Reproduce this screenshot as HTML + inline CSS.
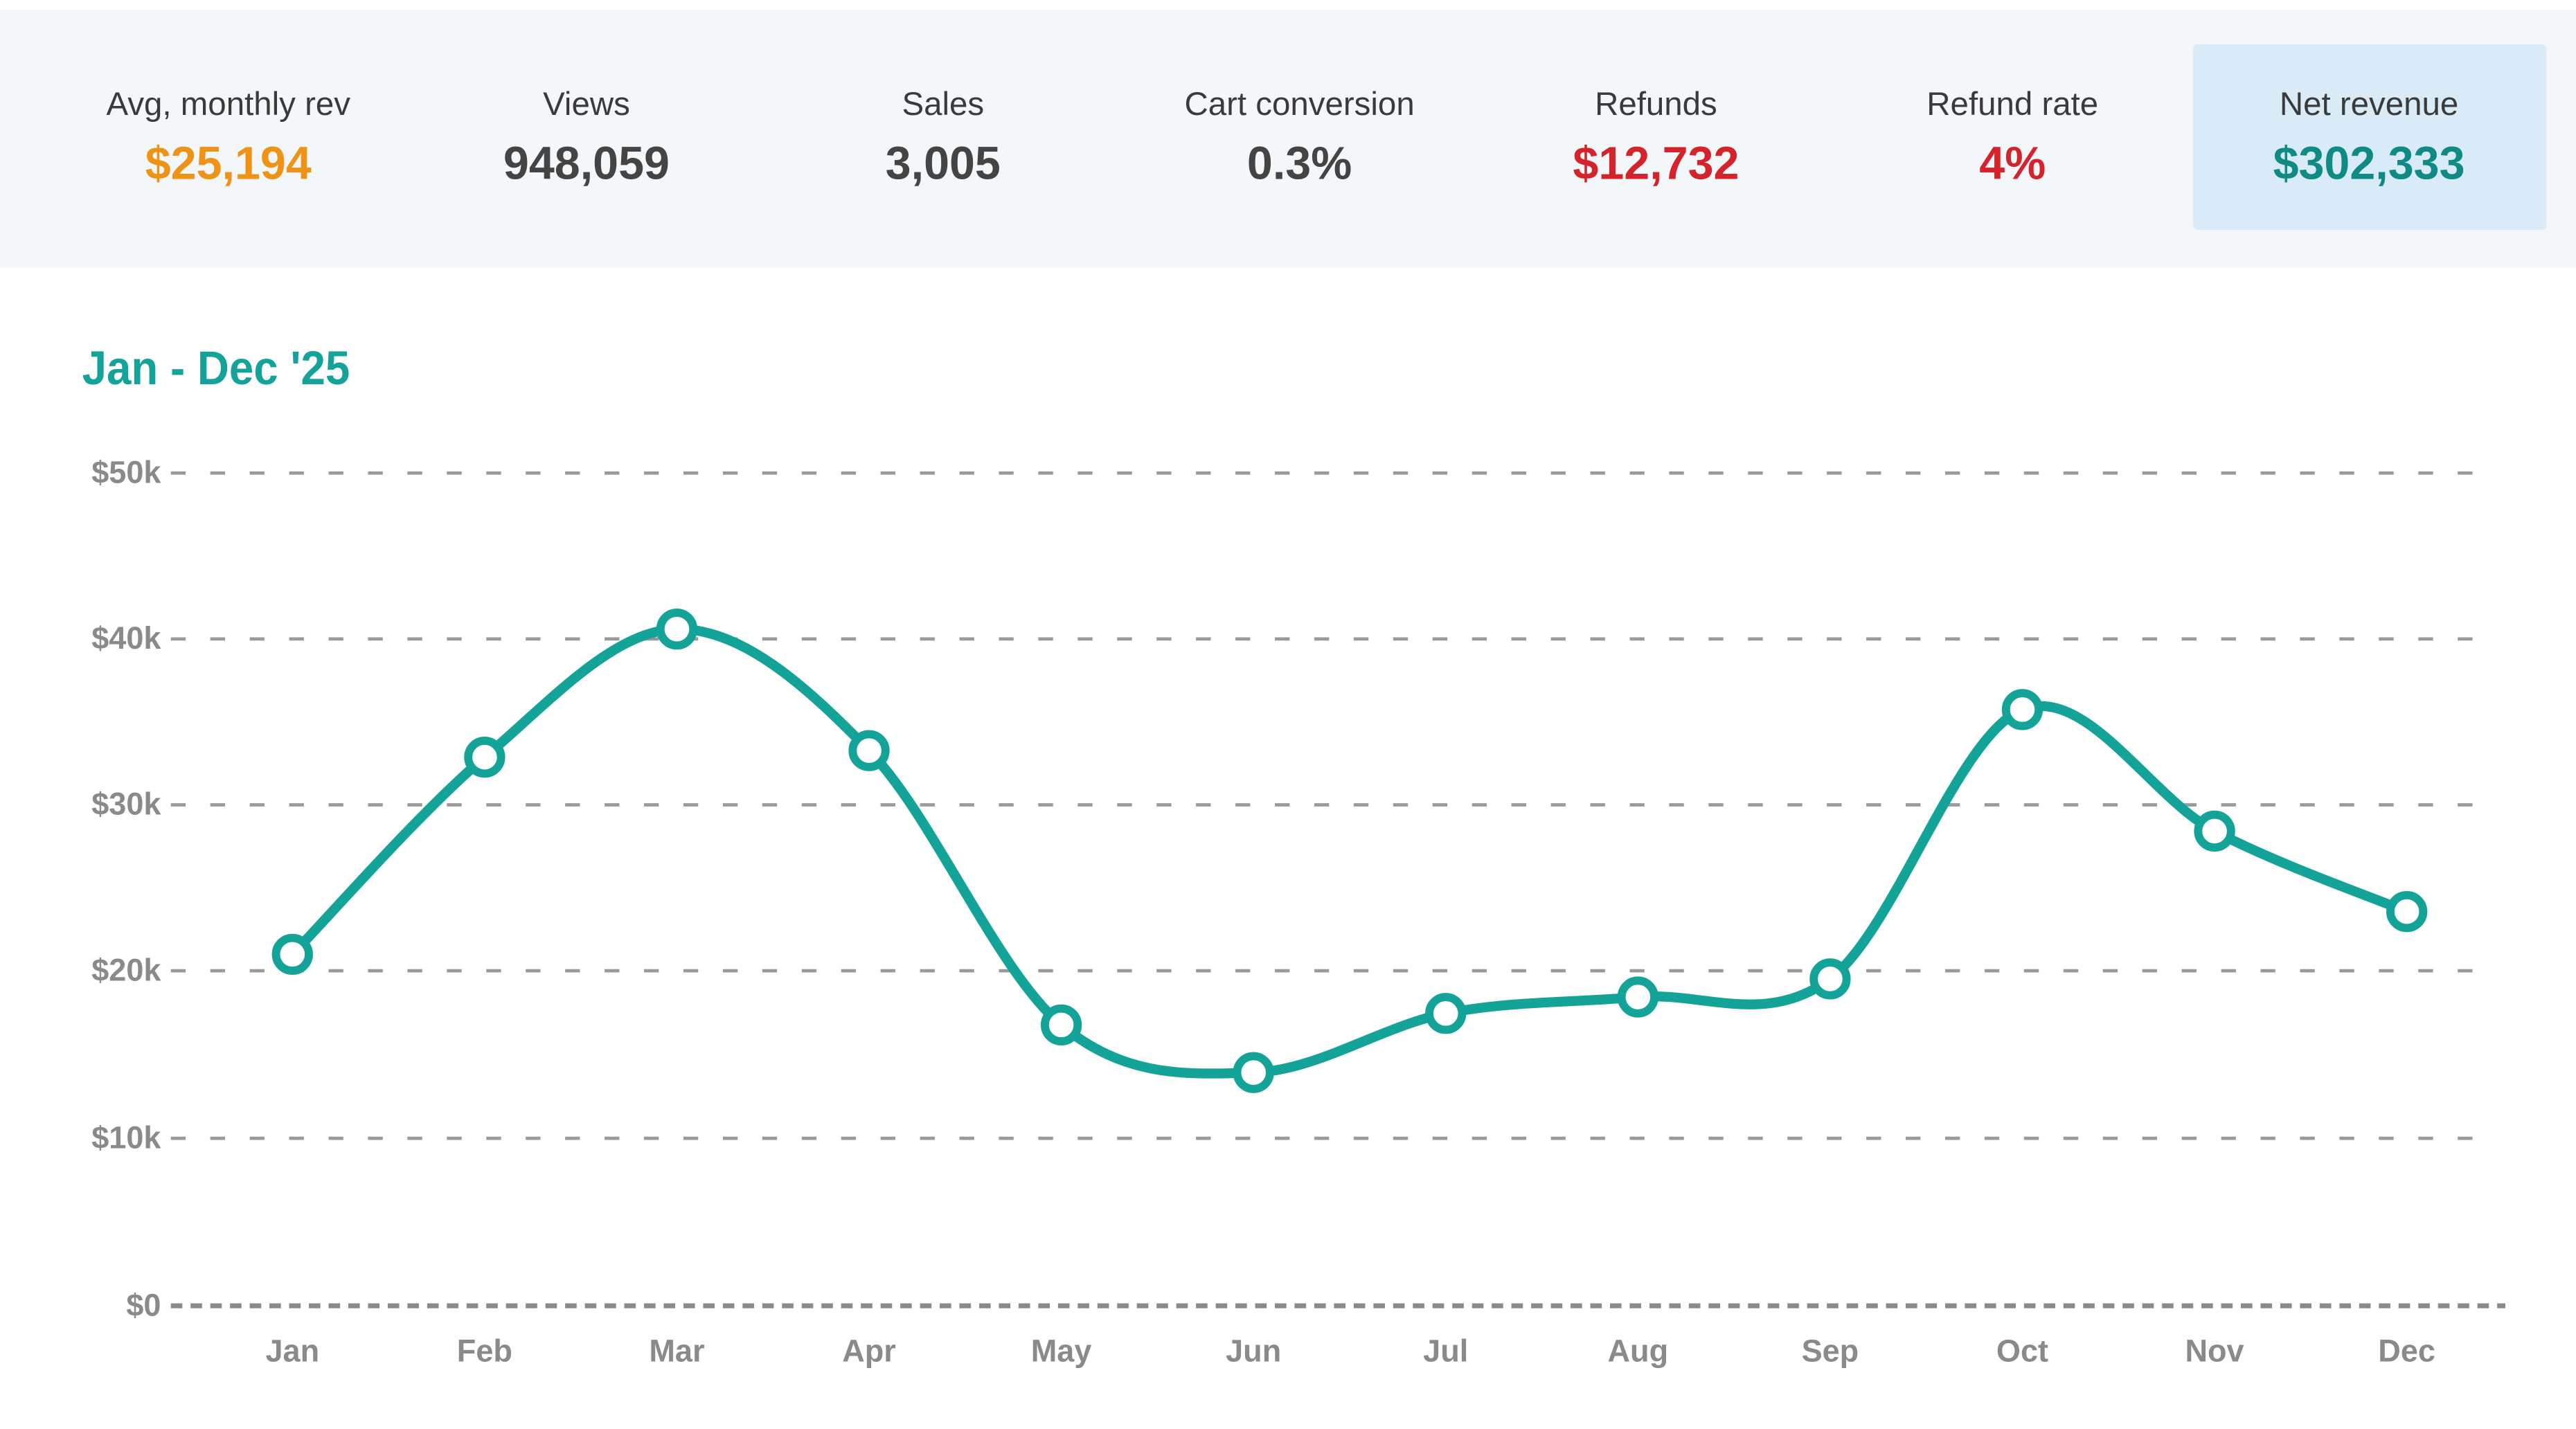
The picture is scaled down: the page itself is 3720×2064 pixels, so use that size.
<!DOCTYPE html>
<html><head><meta charset="utf-8"><style>
html,body{margin:0;padding:0;background:#fff;width:3720px;height:2064px;overflow:hidden}
svg{display:block}
text{font-family:"Liberation Sans",sans-serif}
</style></head><body>
<svg width="3720" height="2064" viewBox="0 0 1568 870" preserveAspectRatio="none" xmlns="http://www.w3.org/2000/svg">
<rect x="0" y="0" width="1568" height="870" fill="#ffffff"/>
<rect x="0" y="6" width="1568" height="157" fill="#f3f7fa"/>
<rect x="1335" y="27" width="215" height="113" rx="3" fill="#d8ebf7"/>
<g text-anchor="middle">
<g font-size="20" fill="#3a3a3a">
<text x="139" y="70">Avg, monthly rev</text>
<text x="357" y="70">Views</text>
<text x="574" y="70">Sales</text>
<text x="791" y="70">Cart conversion</text>
<text x="1008" y="70">Refunds</text>
<text x="1225" y="70">Refund rate</text>
<text x="1442" y="70">Net revenue</text>
</g>
<g font-size="28" font-weight="bold">
<text x="139" y="109" fill="#ef9317">$25,194</text>
<text x="357" y="109" fill="#444">948,059</text>
<text x="574" y="109" fill="#444">3,005</text>
<text x="791" y="109" fill="#444">0.3%</text>
<text x="1008" y="109" fill="#d4232b">$12,732</text>
<text x="1225" y="109" fill="#d4232b">4%</text>
<text x="1442" y="109" fill="#0f8a85">$302,333</text>
</g>
</g>
<text x="50" y="234" font-size="29" font-weight="bold" fill="#14a39a" textLength="163" lengthAdjust="spacingAndGlyphs">Jan - Dec '25</text>
<g stroke="#9a9a9a" stroke-width="2" stroke-dasharray="9,15">
<line x1="104" y1="288" x2="1520" y2="288"/>
<line x1="104" y1="389" x2="1520" y2="389"/>
<line x1="104" y1="490" x2="1520" y2="490"/>
<line x1="104" y1="591" x2="1520" y2="591"/>
<line x1="104" y1="693" x2="1520" y2="693"/>
</g>
<line x1="104" y1="795" x2="1525" y2="795" stroke="#8a8a8a" stroke-width="3" stroke-dasharray="7,5"/>
<g font-size="19" font-weight="bold" fill="#8a8a8a" text-anchor="end">
<text x="98" y="294">$50k</text>
<text x="98" y="395">$40k</text>
<text x="98" y="496">$30k</text>
<text x="98" y="597">$20k</text>
<text x="98" y="699">$10k</text>
<text x="98" y="801">$0</text>
</g>
<g font-size="19" font-weight="bold" fill="#8a8a8a" text-anchor="middle">
<text x="178" y="829">Jan</text><text x="295" y="829">Feb</text><text x="412" y="829">Mar</text>
<text x="529" y="829">Apr</text><text x="646" y="829">May</text><text x="763" y="829">Jun</text>
<text x="880" y="829">Jul</text><text x="997" y="829">Aug</text><text x="1114" y="829">Sep</text>
<text x="1231" y="829">Oct</text><text x="1348" y="829">Nov</text><text x="1465" y="829">Dec</text>
</g>
<path fill="none" stroke="#13a398" stroke-width="6" stroke-linecap="round" d="M178,581 C197.5,561 256,494 295,461 C334,428 373,383.7 412,383 C451,382.3 490,416.8 529,457 C568,497.2 607,591.3 646,624 C685,656.7 724,654.2 763,653 C802,651.8 841,624.7 880,617 C919,609.3 958,610.5 997,607 C1036,603.5 1075,625.2 1114,596 C1153,566.8 1192,447 1231,432 C1270,417 1309,485.5 1348,506 C1387,526.5 1445.5,546.8 1465,555"/>
<g fill="#fff" stroke="#13a398" stroke-width="5">
<circle cx="178" cy="581" r="10"/><circle cx="295" cy="461" r="10"/><circle cx="412" cy="383" r="10"/>
<circle cx="529" cy="457" r="10"/><circle cx="646" cy="624" r="10"/><circle cx="763" cy="653" r="10"/>
<circle cx="880" cy="617" r="10"/><circle cx="997" cy="607" r="10"/><circle cx="1114" cy="596" r="10"/>
<circle cx="1231" cy="432" r="10"/><circle cx="1348" cy="506" r="10"/><circle cx="1465" cy="555" r="10"/>
</g>
</svg>
</body></html>
